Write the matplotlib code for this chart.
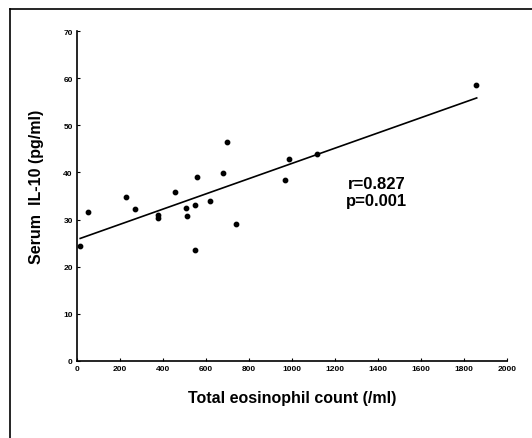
"""
Serum IL-10 vs total eosinophil count scatter with regression line
"""

import numpy as np
import matplotlib.pyplot as plt
from matplotlib.lines import Line2D

plt.rcParams['font.family'] = ['Liberation Sans', 'DejaVu Sans']

# ============================================================
# data
# ============================================================

eos_count = [15, 50, 226, 271, 375, 375, 457, 505, 513, 547, 557, 547,
             620, 679, 699, 738, 966, 987, 1115, 1856]
il10      = [24.5, 31.6, 34.8, 32.3, 31.0, 30.3, 35.8, 32.5, 30.7, 33.0,
             39.0, 23.6, 33.9, 39.8, 46.4, 29.0, 38.5, 42.9, 43.9, 58.6]

fit_x = [15, 1859]
fit_y = [26.0, 55.8]

x_ticks = np.arange(0, 2001, 200)
x_tick_labels = ['0', '200', '400', '600', '800', '1000', '1200', '1400',
                 '1600', '1800', '2000']
y_ticks = np.arange(0, 71, 10)

stats_text = 'r=0.827\np=0.001'

# ============================================================
# plot
# ============================================================

fig = plt.figure(figsize=(5.32, 4.39), dpi=100)
ax = fig.add_axes([0.1447, 0.1754, 0.8083, 0.7517])

ax.plot(fit_x, fit_y, color='black', linewidth=1.2)
ax.scatter(eos_count, il10, s=10, color='black', zorder=3)

ax.set_xlim(0, 2000)
ax.set_ylim(0, 70)
ax.set_xticks(x_ticks)
ax.set_xticklabels(x_tick_labels)
ax.set_yticks(y_ticks)
ax.tick_params(axis='both', direction='in', length=2, width=0.8,
               labelsize=6, pad=3)
for lbl in ax.get_xticklabels() + ax.get_yticklabels():
    lbl.set_fontweight('bold')

for side in ['top', 'right']:
    ax.spines[side].set_visible(False)
for side in ['left', 'bottom']:
    ax.spines[side].set_linewidth(1.2)

ax.set_xlabel('Total eosinophil count (/ml)', fontsize=11.5,
              fontweight='bold', labelpad=13)
ax.set_ylabel('Serum  IL-10 (pg/ml)', fontsize=11.5, fontweight='bold')
ax.yaxis.set_label_coords(-0.076, 0.53)

ax.text(1395, 35.8, stats_text, fontsize=12, fontweight='bold',
        ha='center', va='center', linespacing=1.15)

# outer frame of the scanned figure (left and top edges)
fig.add_artist(Line2D([10 / 532, 10 / 532], [0, 1 - 10 / 439],
                      transform=fig.transFigure, color='black', linewidth=1.2))
fig.add_artist(Line2D([10 / 532, 1], [1 - 10 / 439, 1 - 10 / 439],
                      transform=fig.transFigure, color='black', linewidth=1.2))

plt.savefig('out.png', dpi=100)
